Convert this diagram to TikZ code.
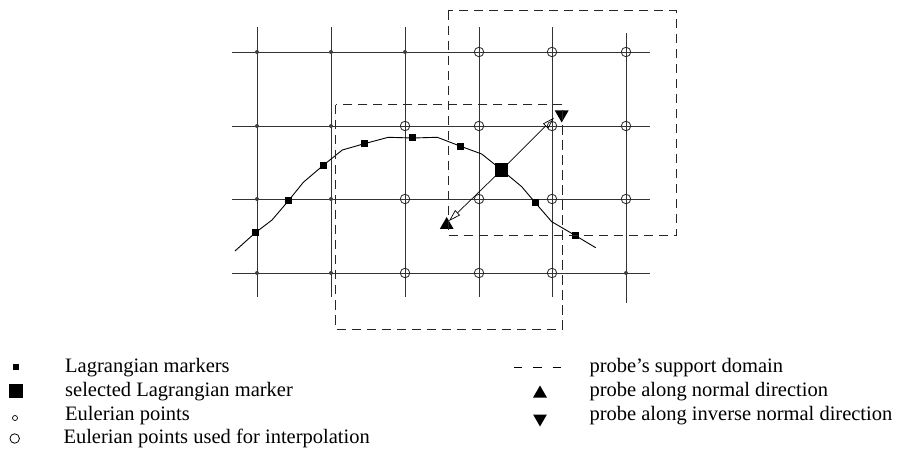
\documentclass[tikz,border=0pt]{standalone}
\usepackage{fontspec}
\setmainfont{Liberation Serif}
\usetikzlibrary{arrows.meta,shapes.geometric}
\begin{document}
\begin{tikzpicture}[x=1pt,y=-1pt,
  gridline/.style={draw=black!80,line width=0.9pt},
  curveline/.style={draw=black,line width=0.9pt},
  edot/.style={circle,fill=black!75,inner sep=0pt,minimum size=4pt},
  ecirc/.style={circle,draw=black!85,line width=0.8pt,inner sep=0pt,minimum size=9.5pt},
  lmark/.style={rectangle,fill=black,inner sep=0pt,minimum size=7pt},
  smark/.style={rectangle,fill=black,inner sep=0pt,minimum size=13.5pt},
  supportbox/.style={draw=black!85,line width=1pt,dash pattern=on 9.5pt off 5.5pt},
  normalarrow/.style={draw=black,line width=0.7pt,-{Triangle[open,length=12pt,width=7pt]}},
  probeup/.style={regular polygon,regular polygon sides=3,fill=black,inner sep=0pt,minimum size=16pt},
  probedown/.style={probeup,shape border rotate=180},
  legtext/.style={anchor=base west,inner sep=0pt,font=\fontsize{20.5}{24}\selectfont}
]
\useasboundingbox (0,0) rectangle (900,449);
% grid
\foreach \x in {257,331,405,479,552}
  \draw[gridline] (\x,27.3) -- (\x,296.7);
\draw[gridline] (626,33.3) -- (626,303.3);
\foreach \y in {52,126,199,273}
  \draw[gridline] (232,\y) -- (650,\y);
% Eulerian points
\foreach \x/\y [count=\i] in {257/52,257/126,257/199,257/273,331/52,331/126,331/199,331/273,405/52,626/273}
  \node[edot] (ed\i) at (\x,\y) {};
\foreach \x/\y [count=\i] in {405/126,479/126,552/126,405/199,479/199,552/199,405/273,479/273,552/273,479/52,552/52,626/52,626/126,626/199}
  \node[ecirc] (ec\i) at (\x,\y) {};
% curve
\coordinate (c0) at (235,251);
\coordinate (c1) at (255,233);
\coordinate (c2) at (272,220);
\coordinate (c3) at (288.3,201);
\coordinate (c4) at (303.3,182.3);
\coordinate (c5) at (323.3,165.3);
\coordinate (c6) at (342.3,150);
\coordinate (c7) at (364.3,143.7);
\coordinate (c8) at (388.3,137.3);
\coordinate (c9) at (412.7,138);
\coordinate (c10) at (437.3,137.3);
\coordinate (c11) at (460.7,146.3);
\coordinate (c12) at (481.7,154);
\coordinate (c13) at (501.7,170);
\coordinate (c14) at (521.7,186.7);
\coordinate (c15) at (535.3,202.7);
\coordinate (c16) at (551.7,221.7);
\coordinate (c17) at (575.7,235.7);
\coordinate (c18) at (595.7,247.7);
\draw[curveline] (c0) -- (c1) -- (c2) -- (c3) -- (c4) -- (c5) -- (c6) -- (c7) -- (c8) -- (c9)
  -- (c10) -- (c11) -- (c12) -- (c13) -- (c14) -- (c15) -- (c16) -- (c17) -- (c18);
% normal arrows
\coordinate (tipout) at (554,117.7);
\coordinate (tipin) at (449,221);
\draw[normalarrow] (c13) -- (tipout);
\draw[normalarrow] (c13) -- (tipin);
% markers
\foreach \c in {1,3,5,7,9,11,15,17}
  \node[lmark] (lm\c) at (c\c) {};
\node[smark] (sel) at (c13) {};
% probes
\node[probedown] (pdown) at (561.7,114.5) {};
\node[probeup] (pup) at (446.7,225) {};
% support domains
\draw[supportbox] (335.7,105) rectangle (562.5,329);
\draw[supportbox] (448.3,11) rectangle (676,235.7);
% legend left
\node[lmark,minimum size=6pt] (k1) at (15.5,366.5) {};
\node[legtext] (t1) at (65,372) {Lagrangian markers};
\node[smark] (k2) at (16,391) {};
\node[legtext] (t2) at (65,396.7) {selected Lagrangian marker};
\node[circle,draw=black,line width=0.7pt,inner sep=0pt,minimum size=5pt] (k3) at (15,418) {};
\node[legtext] (t3) at (65,420.7) {Eulerian points};
\node[ecirc,draw=black] (k4) at (14.7,438.5) {};
\node[legtext] (t4) at (63.3,443.5) {Eulerian points used for interpolation};
% legend right
\coordinate (dl) at (514,367.5);
\coordinate (dr) at (561.7,367.5);
\draw[line width=1pt,dash pattern=on 8.3pt off 11pt] (dl) -- (dr);
\node[legtext] (t5) at (589.3,372) {probe’s support domain};
\node[probeup] (k6) at (540,393.5) {};
\node[legtext] (t6) at (589.3,396.7) {probe along normal direction};
\node[probedown] (k7) at (540,418.5) {};
\node[legtext] (t7) at (589.3,420.7) {probe along inverse normal direction};
\end{tikzpicture}
\end{document}
